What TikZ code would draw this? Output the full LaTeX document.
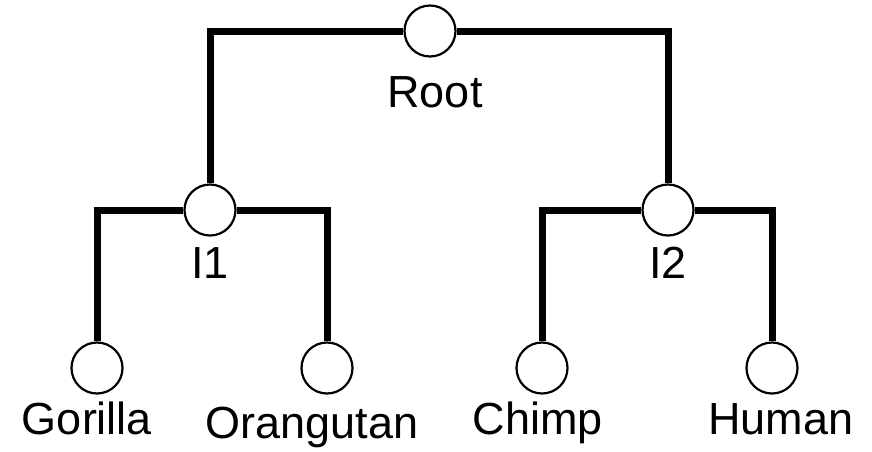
\documentclass[tikz,border=0pt]{standalone}
\usepackage{fontspec}
\setmainfont{Liberation Sans}
\usetikzlibrary{positioning}

\begin{document}
\begin{tikzpicture}[x=1pt, y=-1pt,
    taxon/.style={draw, circle, line width=2.2pt, minimum size=51pt, inner sep=0pt},
    branch/.style={line width=7pt, line join=miter},
    taxontext/.style={anchor=base, inner sep=0pt, font=\fontsize{45}{50}\selectfont}]
  \useasboundingbox (0,0) rectangle (872,451);

  \node[taxon] (root) at (430,31) {};
  \node[taxon] (i1) at (210,210) {};
  \node[taxon] (i2) at (668,210) {};
  \node[taxon] (gorilla) at (97,368) {};
  \node[taxon] (orangutan) at (327,368) {};
  \node[taxon] (chimp) at (542,368) {};
  \node[taxon] (human) at (772,368) {};

  \node[taxontext] (roottext) at (435,107) {Root};
  \node[taxontext] (i1text) at (210,278) {I1};
  \node[taxontext] (i2text) at (668,278) {I2};
  \node[taxontext] (gorillatext) at (87,434) {Gorilla};
  \node[taxontext] (orangutantext) at (312,438) {Orangutan};
  \node[taxontext] (chimptext) at (538,434) {Chimp};
  \node[taxontext] (humantext) at (781,434) {Human};

  \draw[branch] (root) -| (i1);
  \draw[branch] (root) -| (i2);
  \draw[branch] (i1) -| (gorilla);
  \draw[branch] (i1) -| (orangutan);
  \draw[branch] (i2) -| (chimp);
  \draw[branch] (i2) -| (human);
\end{tikzpicture}
\end{document}
